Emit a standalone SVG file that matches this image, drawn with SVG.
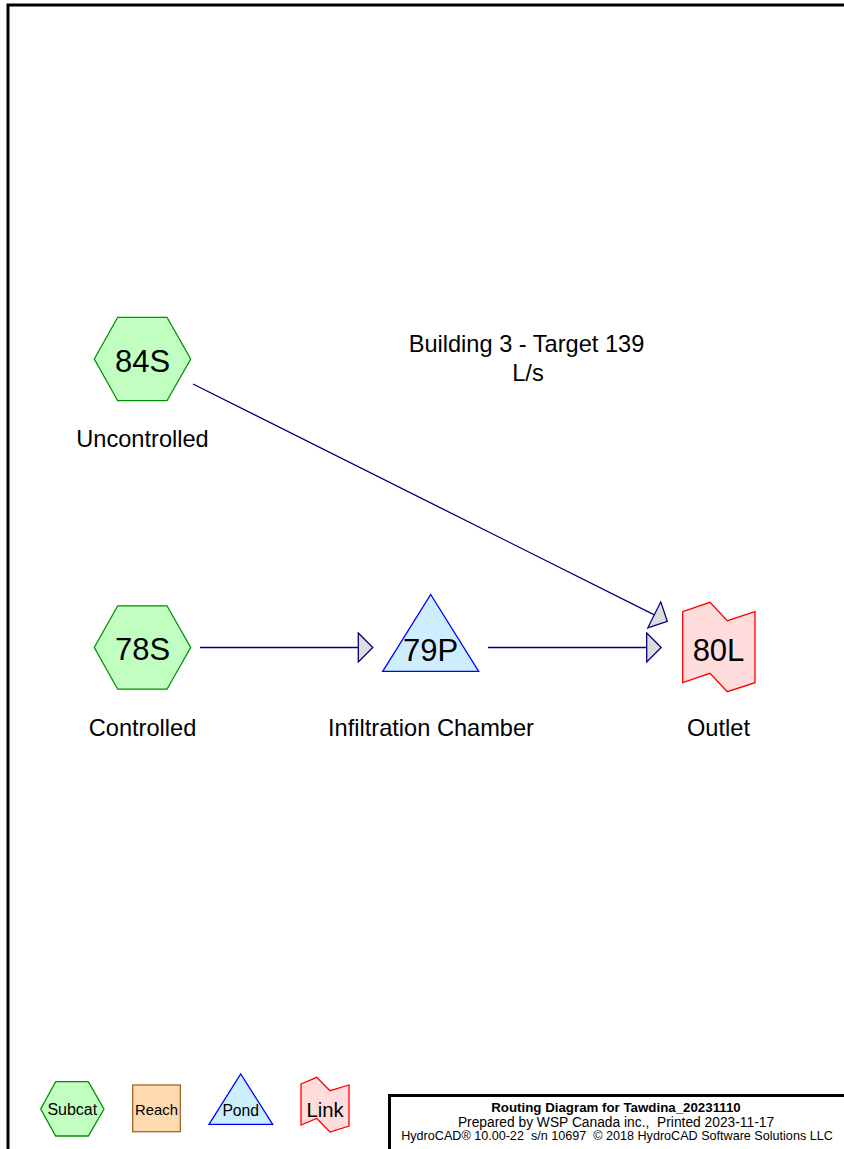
<svg xmlns="http://www.w3.org/2000/svg" width="844" height="1149" viewBox="0 0 844 1149">
<style>
text{font-family:"Liberation Sans",Arial,sans-serif;fill:#000;text-anchor:middle}
.id{font-size:31px}
.lbl{font-size:23.6px}
.subcat{fill:#c0ffc0;stroke:#009000;stroke-width:1.3}
.pond{fill:#cceeff;stroke:#0000ff;stroke-width:1.3}
.link{fill:#ffdddd;stroke:#ff0000;stroke-width:1.3}
.reach{fill:#ffdab0;stroke:#a0662a;stroke-width:1.3}
.conn{stroke:#000080;stroke-width:1.3;fill:none;marker-end:url(#arr)}
.t1{font-size:13.3px;font-weight:bold}
.t2{font-size:13.8px;white-space:pre}
.t3{font-size:12.6px;white-space:pre}
</style>
<defs>
<marker id="arr" markerUnits="userSpaceOnUse" viewBox="-1 -16 18 32" markerWidth="18" markerHeight="32" refX="0" refY="0" orient="auto">
<path d="M0,-14.5 L14.5,0 L0,14.5 Z" fill="#dddddd" stroke="#000080" stroke-width="1.3"/>
</marker>
</defs>
<rect x="0" y="0" width="844" height="1149" fill="#fff"/>
<path d="M8,1149 V5 H844" fill="none" stroke="#000" stroke-width="3"/>
<g id="connectors">
<line class="conn" x1="193" y1="384" x2="654.3" y2="614.8"/>
<line class="conn" x1="200" y1="647.5" x2="358.3" y2="647.5"/>
<line class="conn" x1="488" y1="647.5" x2="646.7" y2="647.5"/>
</g>
<g id="n84S">
<polygon class="subcat" points="94.3,359 117.7,317.3 167,317.3 190.7,359 167,400.7 117.7,400.7"/>
<text class="id" x="142.5" y="371.5">84S</text>
<text class="lbl" x="142.5" y="447">Uncontrolled</text>
</g>
<g id="n78S">
<polygon class="subcat" points="94.3,647.5 117.7,605.8 167,605.8 190.7,647.5 167,689.2 117.7,689.2"/>
<text class="id" x="142.5" y="660">78S</text>
<text class="lbl" x="142.5" y="736">Controlled</text>
</g>
<g id="n79P">
<polygon class="pond" points="430.7,594.5 478.7,671.3 382.7,671.3"/>
<text class="id" x="430.5" y="661">79P</text>
<text class="lbl" x="431" y="736">Infiltration Chamber</text>
</g>
<g id="n80L">
<polygon class="link" points="682.7,611.7 710,602.3 727.3,620.7 755,611.7 755,682.7 727.3,691.7 710,673.3 682.7,682.7"/>
<text class="id" x="718.5" y="661">80L</text>
<text class="lbl" x="718.5" y="736">Outlet</text>
</g>
<g id="note">
<text class="lbl" x="526.5" y="352">Building 3 - Target 139</text>
<text class="lbl" x="528" y="381">L/s</text>
</g>
<g id="legend">
<polygon class="subcat" points="40.7,1109 55.7,1081.7 88.3,1081.7 104,1109 88.3,1136 55.7,1136"/>
<text x="72.3" y="1115" style="font-size:16px">Subcat</text>
<rect class="reach" x="132.7" y="1085" width="47.6" height="46.7"/>
<text x="156.5" y="1115" style="font-size:14.8px">Reach</text>
<polygon class="pond" points="240.7,1074 272.7,1124.3 209,1124.3"/>
<text x="240.7" y="1115.5" style="font-size:15.7px">Pond</text>
<polygon class="link" points="301,1084 316.7,1077.3 330,1090.7 349,1085 349,1126 330,1132 316.7,1118.5 301,1125"/>
<text x="325" y="1117" style="font-size:20.3px">Link</text>
</g>
<g id="titleblock">
<path d="M389.5,1149 V1095.5 H844" fill="none" stroke="#000" stroke-width="3"/>
<text class="t1" x="616" y="1112">Routing Diagram for Tawdina_20231110</text>
<text class="t2" x="616" y="1126.5">Prepared by WSP Canada inc.,  Printed 2023-11-17</text>
<text class="t3" x="617" y="1140">HydroCAD® 10.00-22  s/n 10697  © 2018 HydroCAD Software Solutions LLC</text>
</g>
</svg>
